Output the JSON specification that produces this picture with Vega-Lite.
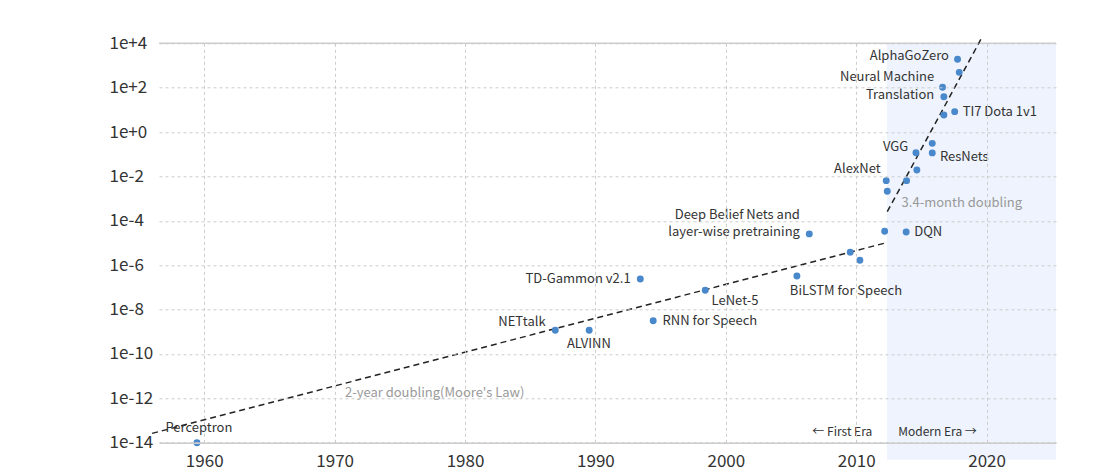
{
  "$schema": "https://vega.github.io/schema/vega-lite/v6.json",
  "width": 897,
  "height": 399.4,
  "autosize": "none",
  "padding": {"left": 159, "top": 43.3, "right": 54, "bottom": 33.3},
  "background": "white",
  "config": {
    "view": {"stroke": null},
    "font": "Noto Sans CJK KR",
    "text": {"font": "Noto Sans CJK KR"}
  },
  "datasets": {
    "points": [
      {"year": 1959.44, "flops": 1e-14},
      {"year": 1986.92, "flops": 1.17e-9},
      {"year": 1989.52, "flops": 1.17e-9},
      {"year": 1993.44, "flops": 2.4e-7},
      {"year": 1994.43, "flops": 3.16e-9},
      {"year": 1998.42, "flops": 7.41e-8},
      {"year": 2005.45, "flops": 3.24e-7},
      {"year": 2006.40, "flops": 2.57e-5},
      {"year": 2009.54, "flops": 3.8e-6},
      {"year": 2010.28, "flops": 1.66e-6},
      {"year": 2012.18, "flops": 3.39e-5},
      {"year": 2013.83, "flops": 3.16e-5},
      {"year": 2012.30, "flops": 6.46e-3},
      {"year": 2012.38, "flops": 2.14e-3},
      {"year": 2013.86, "flops": 6.46e-3},
      {"year": 2014.58, "flops": 0.1175},
      {"year": 2014.65, "flops": 0.0195},
      {"year": 2015.83, "flops": 0.309},
      {"year": 2015.83, "flops": 0.115},
      {"year": 2016.62, "flops": 104.7},
      {"year": 2016.72, "flops": 38.9},
      {"year": 2016.72, "flops": 5.89},
      {"year": 2017.55, "flops": 8.32},
      {"year": 2017.77, "flops": 1905},
      {"year": 2017.90, "flops": 490}
    ],
    "trends": [
      {"trend": "moore", "year": 1956.0, "flops": 2.63e-14},
      {"trend": "moore", "year": 2012.28, "flops": 1.02e-5},
      {"trend": "modern", "year": 2012.38, "flops": 2.57e-4},
      {"trend": "modern", "year": 2019.56, "flops": 1.51e4}
    ],
    "shade": [
      {"start": 2012.35, "end": 2025.32, "top": 1e4, "bottom": 1.7e-15}
    ],
    "topline": [{"flops": 1e4}],
    "labelsRight": [
      {"label": "NETtalk", "year": 1986.18, "flops": 2.82e-9},
      {"label": "TD-Gammon v2.1", "year": 1992.70, "flops": 2.4e-7},
      {"label": "Deep Belief Nets and", "year": 2005.68, "flops": 1.82e-4},
      {"label": "layer-wise pretraining", "year": 2005.68, "flops": 3.02e-5},
      {"label": "AlphaGoZero", "year": 2017.11, "flops": 2692},
      {"label": "Neural Machine", "year": 2015.98, "flops": 295},
      {"label": "Translation", "year": 2015.98, "flops": 46.8},
      {"label": "VGG", "year": 2013.99, "flops": 0.204},
      {"label": "AlexNet", "year": 2011.87, "flops": 0.0219}
    ],
    "labelsLeft": [
      {"label": "RNN for Speech", "year": 1995.15, "flops": 3.09e-9},
      {"label": "LeNet-5", "year": 1998.91, "flops": 2.51e-8},
      {"label": "BiLSTM for Speech", "year": 2004.91, "flops": 7.08e-8},
      {"label": "DQN", "year": 2014.45, "flops": 3.16e-5},
      {"label": "TI7 Dota 1v1", "year": 2018.16, "flops": 7.76},
      {"label": "ResNets", "year": 2016.42, "flops": 0.0759}
    ],
    "labelsCenter": [
      {"label": "Perceptron", "year": 1959.59, "flops": 4.57e-14},
      {"label": "ALVINN", "year": 1989.50, "flops": 2.75e-10}
    ],
    "trendLabels": [
      {"label": "3.4-month doubling", "year": 2013.48, "flops": 6.61e-4},
      {"label": "2-year doubling(Moore's Law)", "year": 1970.79, "flops": 1.7e-12}
    ],
    "eraLeft": [{"label": "← First Era", "year": 2011.23, "flops": 3.16e-14}],
    "eraRight": [{"label": "Modern Era →", "year": 2013.22, "flops": 3.16e-14}]
  },
  "layer": [
    {
      "data": {"name": "shade"},
      "mark": {"type": "rect", "color": "#eef3fd", "clip": false},
      "encoding": {
        "x": {"field": "start", "type": "quantitative", "scale": {"domain": [1956.53, 2025.32], "nice": false, "zero": false},
          "axis": {"title": null, "values": [1960, 1970, 1980, 1990, 2000, 2010, 2020], "format": "d", "ticks": false,
            "labelFontSize": 17, "labelColor": "#333", "labelPadding": 11, "domainColor": "#cccccc", "domainWidth": 1.5,
            "gridColor": "#cccccc", "gridDash": [3, 3], "gridWidth": 1, "zindex": 1, "labelFont": "Noto Sans CJK KR"}},
        "x2": {"field": "end"},
        "y": {"field": "top", "type": "quantitative", "scale": {"type": "log", "domain": [1e-14, 1e4], "nice": false},
          "axis": {"title": null, "values": [1e-14, 1e-12, 1e-10, 1e-8, 1e-6, 1e-4, 1e-2, 1, 100, 10000],
            "labelExpr": "format(datum.value, '.0e')", "ticks": false, "domain": false, "labelAlign": "left",
            "labelPadding": 50, "labelFontSize": 17, "labelColor": "#333", "gridColor": "#cccccc", "gridDash": [3, 3],
            "gridWidth": 1, "zindex": 1, "labelFont": "Noto Sans CJK KR"}},
        "y2": {"field": "bottom"}
      }
    },
    {
      "data": {"name": "topline"},
      "mark": {"type": "rule", "color": "#cccccc", "strokeWidth": 1.5},
      "encoding": {"y": {"field": "flops", "type": "quantitative"}}
    },
    {
      "data": {"name": "trends"},
      "mark": {"type": "line", "color": "#222222", "strokeDash": [6, 4], "strokeWidth": 1.5, "clip": false},
      "encoding": {
        "x": {"field": "year", "type": "quantitative"},
        "y": {"field": "flops", "type": "quantitative"},
        "detail": {"field": "trend"}
      }
    },
    {
      "data": {"name": "points"},
      "mark": {"type": "circle", "color": "#4a88cc", "opacity": 1, "size": 48},
      "encoding": {
        "x": {"field": "year", "type": "quantitative"},
        "y": {"field": "flops", "type": "quantitative"}
      }
    },
    {
      "data": {"name": "labelsRight"},
      "mark": {"type": "text", "align": "right", "baseline": "middle", "fontSize": 13, "color": "#333333"},
      "encoding": {
        "x": {"field": "year", "type": "quantitative"},
        "y": {"field": "flops", "type": "quantitative"},
        "text": {"field": "label"}
      }
    },
    {
      "data": {"name": "labelsLeft"},
      "mark": {"type": "text", "align": "left", "baseline": "middle", "fontSize": 13, "color": "#333333"},
      "encoding": {
        "x": {"field": "year", "type": "quantitative"},
        "y": {"field": "flops", "type": "quantitative"},
        "text": {"field": "label"}
      }
    },
    {
      "data": {"name": "labelsCenter"},
      "mark": {"type": "text", "align": "center", "baseline": "middle", "fontSize": 13, "color": "#333333"},
      "encoding": {
        "x": {"field": "year", "type": "quantitative"},
        "y": {"field": "flops", "type": "quantitative"},
        "text": {"field": "label"}
      }
    },
    {
      "data": {"name": "trendLabels"},
      "mark": {"type": "text", "align": "left", "baseline": "middle", "fontSize": 13, "color": "#999999"},
      "encoding": {
        "x": {"field": "year", "type": "quantitative"},
        "y": {"field": "flops", "type": "quantitative"},
        "text": {"field": "label"}
      }
    },
    {
      "data": {"name": "eraLeft"},
      "mark": {"type": "text", "align": "right", "baseline": "middle", "fontSize": 12, "color": "#333333"},
      "encoding": {
        "x": {"field": "year", "type": "quantitative"},
        "y": {"field": "flops", "type": "quantitative"},
        "text": {"field": "label"}
      }
    },
    {
      "data": {"name": "eraRight"},
      "mark": {"type": "text", "align": "left", "baseline": "middle", "fontSize": 12, "color": "#333333"},
      "encoding": {
        "x": {"field": "year", "type": "quantitative"},
        "y": {"field": "flops", "type": "quantitative"},
        "text": {"field": "label"}
      }
    }
  ]
}
